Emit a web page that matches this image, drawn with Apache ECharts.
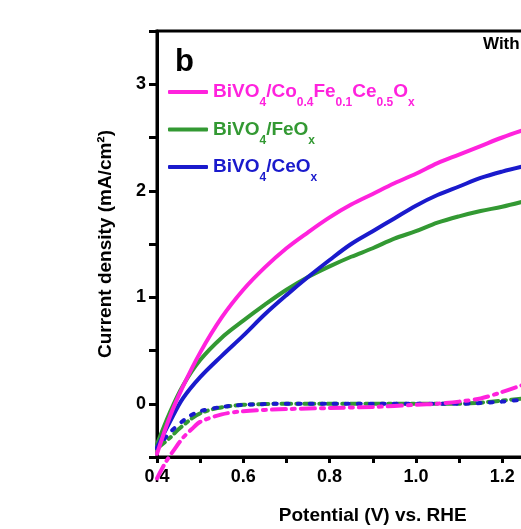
<!DOCTYPE html>
<html>
<head>
<meta charset="utf-8">
<script src="https://cdn.jsdelivr.net/npm/echarts@6/dist/echarts.min.js"></script>
<style>
html,body{margin:0;padding:0;background:#fff;}
#chart{width:521px;height:529px;}
</style>
</head>
<body>
<div id="chart"></div>
<script>
// ---- data ----
const potentialLight = [0.40,0.43,0.46,0.50,0.55,0.60,0.65,0.70,0.75,0.80,0.85,0.90,0.95,1.00,1.05,1.10,1.15,1.20,1.25];
const coFeCeLight = [-0.47,-0.12,0.16,0.48,0.81,1.07,1.28,1.46,1.61,1.75,1.87,1.97,2.07,2.16,2.26,2.34,2.42,2.50,2.57];
const feOxLight   = [-0.38,-0.08,0.17,0.41,0.62,0.78,0.93,1.07,1.19,1.29,1.38,1.46,1.55,1.62,1.70,1.76,1.81,1.85,1.90];
const ceOxLight   = [-0.41,-0.17,0.05,0.25,0.45,0.64,0.84,1.02,1.19,1.35,1.50,1.62,1.74,1.86,1.96,2.04,2.12,2.18,2.23];

const potentialCoFeCeDark = [0.40,0.42,0.44,0.46,0.48,0.50,0.55,0.60,0.70,0.80,0.90,1.00,1.05,1.10,1.15,1.20,1.25];
const coFeCeDark = [-0.70,-0.55,-0.43,-0.32,-0.24,-0.17,-0.10,-0.07,-0.05,-0.04,-0.03,-0.01,0.00,0.02,0.05,0.11,0.18];
const potentialFeOxDark = [0.40,0.43,0.45,0.48,0.50,0.54,0.60,0.70,0.80,0.90,1.00,1.10,1.15,1.20,1.25];
const feOxDark = [-0.42,-0.32,-0.24,-0.14,-0.09,-0.04,-0.01,0.00,0.00,0.00,0.00,0.00,0.01,0.03,0.05];
const potentialCeOxDark = [0.40,0.43,0.47,0.50,0.55,0.60,0.70,0.80,0.90,1.00,1.10,1.20,1.25];
const ceOxDark = [-0.42,-0.27,-0.13,-0.07,-0.03,-0.01,0.00,0.00,0.00,0.00,0.00,0.02,0.04];

const seriesNames = ['BiVO4/Co0.4Fe0.1Ce0.5Ox', 'BiVO4/FeOx', 'BiVO4/CeOx'];
const xTickLabels = ['0.4','0.6','0.8','1.0','1.2','1.4'];
const yTickLabels = ['0','1','2','3'];

// ---- styling ----
const MAG = '#ff22dd', GRN = '#339933', BLU = '#1a1acc';
const FONT = '"Liberation Sans", Arial, sans-serif';

function pair(xs, ys){ return xs.map((x,i)=>[x, ys[i]]); }

const legendRich = {};
[['m',MAG],['g',GRN],['b',BLU]].forEach(([k,c])=>{
  legendRich[k] = {color:c, fontSize:19, fontWeight:'bold', fontFamily:FONT, lineHeight:22};
  legendRich[k+'s'] = {color:c, fontSize:12, fontWeight:'bold', fontFamily:FONT, lineHeight:22, padding:[22,0,0,0]};
});
const legendText = {};
legendText[seriesNames[0]] = '{m|BiVO}{ms|4}{m|/Co}{ms|0.4}{m|Fe}{ms|0.1}{m|Ce}{ms|0.5}{m|O}{ms|x}';
legendText[seriesNames[1]] = '{g|BiVO}{gs|4}{g|/FeO}{gs|x}';
legendText[seriesNames[2]] = '{b|BiVO}{bs|4}{b|/CeO}{bs|x}';

const chart = echarts.init(document.getElementById('chart'), null, {renderer:'canvas'});

const lightSeries = (name, data, color, z) => ({
  name, type:'line', data, showSymbol:false, smooth:0.35, z,
  lineStyle:{color, width:4, cap:'round'}, itemStyle:{color}
});
const darkSeries = (name, data, color, dash, z, clip) => ({
  name, type:'line', data, showSymbol:false, smooth:0.3, z, clip: clip,
  lineStyle:{color, width:4, type:dash, cap:'round'}, itemStyle:{color}
});

chart.setOption({
  animation:false,
  backgroundColor:'#fff',
  grid:{left:157, top:31, width:431.5, height:426, outerBoundsMode:'none', containLabel:false,
        show:true, borderColor:'#000', borderWidth:3, backgroundColor:'transparent'},
  legend:{
    data: seriesNames,
    orient:'vertical', left:168, top:75, padding:0, itemGap:3.5,
    itemWidth:40, itemHeight:4, icon:'roundRect',
    formatter: n => legendText[n],
    textStyle:{rich:legendRich}
  },
  xAxis:{
    type:'value', min:0.4, max:1.4, interval:0.1,
    name:'Potential (V) vs. RHE', nameLocation:'middle', nameGap:49,
    nameTextStyle:{fontFamily:FONT, fontSize:19, fontWeight:'bold', color:'#000'},
    axisLine:{show:true, onZero:false, lineStyle:{color:'#000', width:3}},
    axisTick:{show:true, length:6, inside:false, lineStyle:{width:3, color:'#000'}},
    axisLabel:{margin:11, fontFamily:FONT, fontSize:18, fontWeight:'bold', color:'#000',
      formatter: v => { const s = v.toFixed(1); return xTickLabels.includes(s) ? s : ''; }},
    splitLine:{show:false}
  },
  yAxis:{
    type:'value', min:-0.5, max:3.5, interval:0.5,
    name:'Current density (mA/cm²)', nameLocation:'middle', nameGap:42,
    nameTextStyle:{fontFamily:FONT, fontSize:19, fontWeight:'bold', color:'#000'},
    axisLine:{show:true, onZero:false, lineStyle:{color:'#000', width:3}},
    axisTick:{show:true, length:8, inside:false, lineStyle:{width:3, color:'#000'}},
    axisLabel:{margin:11, fontFamily:FONT, fontSize:18, fontWeight:'bold', color:'#000',
      formatter: v => { const s = String(Math.round(v*10)/10); return yTickLabels.includes(s) ? s : ''; }},
    splitLine:{show:false}
  },
  graphic:[
    {type:'text', left:175, top:47, style:{text:'b', fontFamily:FONT, fontSize:31, fontWeight:'bold', fill:'#000'}},
    {type:'text', left:483, top:36, style:{text:'With', fontFamily:FONT, fontSize:17, fontWeight:'bold', fill:'#000'}}
  ],
  series:[
    darkSeries('FeOx dark', pair(potentialFeOxDark, feOxDark), GRN, [10,5,3,5], 2, true),
    darkSeries('CeOx dark', pair(potentialCeOxDark, ceOxDark), BLU, [3,9], 3, true),
    darkSeries('CoFeCe dark', pair(potentialCoFeCeDark, coFeCeDark), MAG, [14,6,3,6], 4, false),
    lightSeries(seriesNames[1], pair(potentialLight, feOxLight), GRN, 5),
    lightSeries(seriesNames[2], pair(potentialLight, ceOxLight), BLU, 6),
    lightSeries(seriesNames[0], pair(potentialLight, coFeCeLight), MAG, 7)
  ]
});
</script>
</body>
</html>
